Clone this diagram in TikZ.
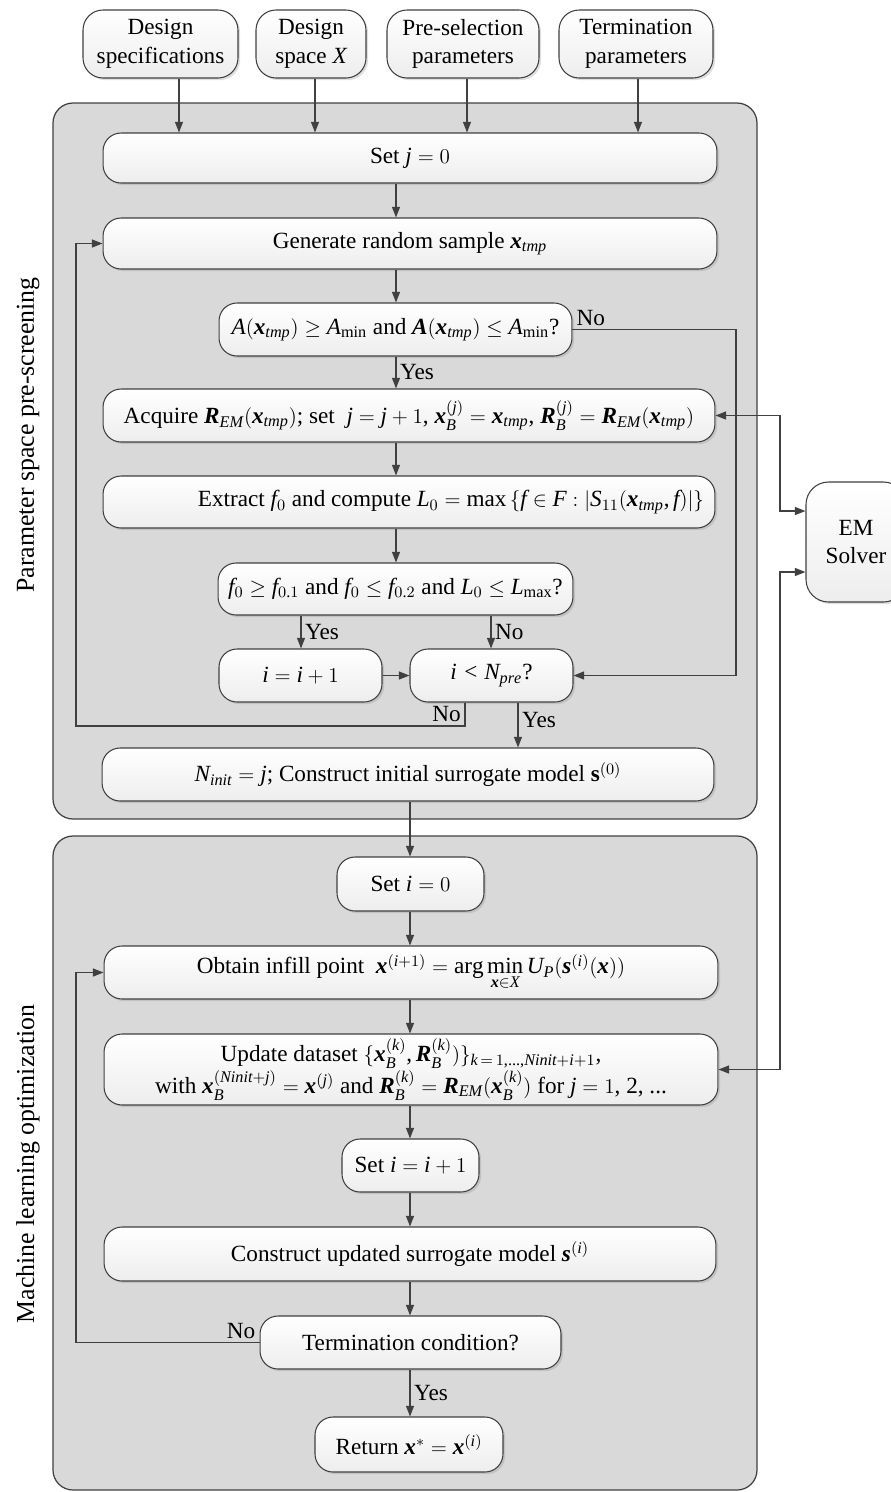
\documentclass[tikz,border=0pt]{standalone}
\usepackage{amsmath}
\usepackage{fontspec}
\setmainfont{Liberation Serif}[NFSSFamily=libser]
\DeclareSymbolFont{letters}{TU}{libser}{m}{it}
\SetSymbolFont{letters}{bold}{TU}{libser}{b}{it}
\mathcode`,="602C
\mathcode`.="002E
\usetikzlibrary{arrows.meta, shadows, calc, positioning}

\definecolor{panelgray}{RGB}{217,217,217}
\definecolor{linegray}{RGB}{64,64,64}
\newcommand{\boxfont}{\fontsize{13.2}{16.4}\selectfont}
\newcommand{\labfont}{\fontsize{14.7}{17}\selectfont}
\newcommand{\xtmp}{\boldsymbol{x}_{tmp}}

\begin{document}
\begin{tikzpicture}[x=0.02cm, y=-0.02cm,
		box/.style={draw=linegray, line width=0.6pt, rounded corners=0.36cm, top color=white, bottom color=black!7,
			drop shadow={shadow xshift=1.2pt, shadow yshift=-1.2pt, opacity=0.25},
			font=\boxfont, align=center, inner sep=2pt, minimum height=1.06cm},
		inbox/.style={box, rounded corners=0.4cm, minimum height=1.36cm},
		panel/.style={draw=linegray, fill=panelgray, line width=0.7pt, rounded corners=0.4cm},
		arr/.style={draw=linegray, line width=0.75pt, -{Triangle[length=6pt,width=4.5pt]}},
		biarr/.style={arr, {Triangle[length=6pt,width=4.5pt]}-{Triangle[length=6pt,width=4.5pt]}},
		lbl/.style={font=\boxfont, inner sep=2pt}]
		\useasboundingbox (0,0) rectangle (891,1492);

		% Stage panels
		\draw[panel] (53,103) rectangle (757,819);
		\draw[panel] (53,836) rectangle (757,1490);
		\node[rotate=90, font=\labfont] (stage1) at (28,435) {Parameter space pre-screening};
		\node[rotate=90, font=\labfont] (stage2) at (28,1164) {Machine learning optimization};

		% Columns
		\coordinate (ca) at (396,0);
		\coordinate (cb) at (410,0);
		\coordinate (cl) at (76,0);
		\coordinate (cr) at (736,0);
		\coordinate (ce) at (780,0);

		% Inputs
		\node[inbox, minimum width=3.1cm] (spec) at (160.5,44) {Design\\specifications};
		\node[inbox, minimum width=2.2cm] (space) at (311,44) {Design\\space $X$};
		\node[inbox, minimum width=3.04cm] (presel) at (463,44) {Pre-selection\\parameters};
		\node[inbox, minimum width=3.08cm] (termpar) at (636,44) {Termination\\parameters};

		% Pre-screening
		\node[box, minimum width=12.28cm, minimum height=1cm] (setj) at (410,158) {Set $j = 0$};
		\node[box, minimum width=12.28cm, minimum height=1.02cm] (gen) at (410,243.5) {Generate random sample $\xtmp$};
		\node[box, minimum width=7.06cm] (cond1) at (395.5,329.5) {$A(\xtmp) \geq A_{\min}$ and $\boldsymbol{A}(\xtmp) \leq A_{\min}$?};
		\node[box, minimum width=12.24cm] (acq) at (409,415.5) {Acquire $\boldsymbol{R}_{EM}(\xtmp)$; set\ \ $j = j + 1$, $\boldsymbol{x}_B^{(j)} = \xtmp$, $\boldsymbol{R}_B^{(j)} = \boldsymbol{R}_{EM}(\xtmp)$};
		\node[box, minimum width=12.24cm, minimum height=1.04cm, text width=11.8cm, align=flush right] (extr) at (409,502) {Extract $f_0$ and compute $L_0 = \max\,\{f \in F : |S_{11}(\xtmp,f)|\}$};
		\node[box, minimum width=7.1cm, minimum height=1.04cm] (cond2) at (395.5,589) {$f_0 \geq f_{0.1}$ and $f_0 \leq f_{0.2}$ and $L_0 \leq L_{\max}$?};
		\node[box, minimum width=3.26cm] (inc) at (300.5,675.5) {$i = i + 1$};
		\node[box, minimum width=3.26cm] (cond3) at (491.5,675.5) {$i < N_{pre}$?};
		\node[box, minimum width=12.24cm] (ninit) at (408,774.5) {$N_{init} = j$; Construct initial surrogate model $\mathbf{s}^{(0)}$};

		% Optimization
		\node[box, minimum width=2.94cm, minimum height=1.08cm] (seti) at (410.5,884) {Set $i = 0$};
		\node[box, minimum width=12.28cm] (obt) at (411,972.5) {Obtain infill point\ \ $\boldsymbol{x}^{(i+1)} = \arg\min\limits_{\boldsymbol{x}\in X} U_P(\boldsymbol{s}^{(i)}(\boldsymbol{x}))$};
		\node[box, minimum width=12.28cm, minimum height=1.42cm] (upd) at (411,1069.5) {Update dataset $\{\boldsymbol{x}_B^{(k)},\boldsymbol{R}_B^{(k)})\}_{k\,=\,1,...,Ninit+i+1}$,\\with $\boldsymbol{x}_B^{(Ninit+j)} = \boldsymbol{x}^{(j)}$ and $\boldsymbol{R}_B^{(k)} = \boldsymbol{R}_{EM}(\boldsymbol{x}_B^{(k)})$ for $j = 1$, 2, ...};
		\node[box, minimum width=2.74cm] (seti2) at (410.5,1165.5) {Set $i = i + 1$};
		\node[box, minimum width=12.24cm, minimum height=1.08cm] (cons) at (410,1254) {Construct updated surrogate model $\boldsymbol{s}^{(i)}$};
		\node[box, minimum width=6.02cm] (term) at (410.5,1342.5) {Termination condition?};
		\node[box, minimum width=3.76cm, minimum height=1.1cm] (ret) at (409,1444.5) {Return $\boldsymbol{x}^{*} = \boldsymbol{x}^{(i)}$};

		% Simulator
		\node[box, minimum width=2cm, minimum height=2.4cm, rounded corners=0.45cm] (em) at (856,542) {EM\\Solver};

		% Input arrows
		\foreach \n/\x in {spec/179, space/315, presel/467, termpar/638}
			\draw[arr] (\n.south -| \x,0) -- (setj.north -| \x,0);

		% Pre-screening arrows
		\draw[arr] (setj.south -| ca) -- (gen.north -| ca);
		\draw[arr] (gen.south -| ca) -- (cond1.north -| ca);
		\draw[arr] (cond1.south -| ca) -- node[right, lbl] {Yes} (acq.north -| ca);
		\draw[arr] (acq.south -| ca) -- (extr.north -| ca);
		\draw[arr] (extr.south -| ca) -- (cond2.north -| ca);
		\draw[arr] (cond2.south -| 301,0) -- node[right, lbl] {Yes} (inc.north -| 301,0);
		\draw[arr] (cond2.south -| 491,0) -- node[right, lbl] {No} (cond3.north -| 491,0);
		\draw[arr] (inc.east) -- (cond3.west);
		\draw[arr] (cond1.east) node[above right, lbl] {No} -| (cr |- cond3.east) -- (cond3.east);
		\draw[arr] (cond3.south -| 465,0) -- (465,726) node[above left, lbl] {No} -| (cl |- gen.west) -- (gen.west);
		\draw[arr] (cond3.south -| 518,0) -- node[right, lbl, pos=0.4] {Yes} (ninit.north -| 518,0);

		% Optimization arrows
		\draw[arr] (ninit.south -| cb) -- (seti.north -| cb);
		\draw[arr] (seti.south -| cb) -- (obt.north -| cb);
		\draw[arr] (obt.south -| cb) -- (upd.north -| cb);
		\draw[arr] (upd.south -| cb) -- (seti2.north -| cb);
		\draw[arr] (seti2.south -| cb) -- (cons.north -| cb);
		\draw[arr] (cons.south -| cb) -- (term.north -| cb);
		\draw[arr] (term.south -| cb) -- node[right, lbl] {Yes} (ret.north -| cb);
		\draw[arr] (term.west) node[above left, lbl] {No} -| (cl |- obt.west) -- (obt.west);

		% Simulator links
		\draw[biarr] (acq.east) -- (ce |- acq.east) |- ($(em.west)+(0,-31)$);
		\draw[biarr] ($(em.west)+(0,30)$) -| (ce |- upd.east) -- (upd.east);
	\end{tikzpicture}
\end{document}
